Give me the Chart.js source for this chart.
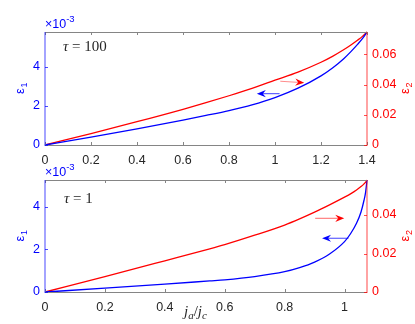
<!DOCTYPE html>
<html>
<head>
<meta charset="utf-8">
<script src="https://cdn.jsdelivr.net/npm/chart.js@4"></script>
<style>
  body { margin: 0; background: #fff; width: 415px; height: 324px; position: relative; overflow: hidden; }
  canvas { position: absolute; left: 0; }
  #c1 { top: 0; }
  #c2 { top: 160px; }
</style>
</head>
<body>
<canvas id="c1" width="415" height="170"></canvas>
<canvas id="c2" width="415" height="164"></canvas>
<script>
// --- data ---
// top panel, tau = 100
const xTop    = [0, 0.2, 0.4, 0.6, 0.7, 0.8, 0.9, 1.0, 1.1, 1.2, 1.25, 1.3, 1.33, 1.36, 1.38, 1.4];
const eps1Top = [0, 0.40, 0.82, 1.27, 1.51, 1.76, 2.05, 2.42, 2.90, 3.53, 3.93, 4.42, 4.77, 5.15, 5.43, 5.77]; // x 1e-3
const eps2Top = [0, 0.0076, 0.0154, 0.0236, 0.0280, 0.0326, 0.0375, 0.0429, 0.0483, 0.0548, 0.0587, 0.0632, 0.0662, 0.0695, 0.0719, 0.0748];
// bottom panel, tau = 1
const xBot    = [0, 0.2, 0.4, 0.55, 0.6, 0.7, 0.8, 0.85, 0.9, 0.95, 1.0, 1.02, 1.04, 1.055, 1.065, 1.07, 1.075];
const eps1Bot = [0, 0.18, 0.37, 0.52, 0.57, 0.72, 0.95, 1.14, 1.40, 1.78, 2.36, 2.73, 3.22, 3.75, 4.30, 4.65, 5.25]; // x 1e-3
const eps2Bot = [0, 0.0080, 0.0162, 0.0224, 0.0246, 0.0295, 0.0348, 0.0380, 0.0415, 0.0453, 0.0493, 0.0510, 0.0530, 0.0548, 0.0562, 0.0570, 0.0582];

const BLUE = '#0000ff';
const RED = '#ff0000';
const DARK = '#262626';
const SANS = '"Liberation Sans", Arial, Helvetica, sans-serif';
const SERIF = '"Liberation Serif", "Times New Roman", serif';

function pts(xs, ys) {
    return xs.map((x, i) => ({ x: x, y: ys[i] }));
}

// kleine helper om een lijn te trekken
function seg(ctx, x1, y1, x2, y2) {
    ctx.beginPath();
    ctx.moveTo(x1, y1);
    ctx.lineTo(x2, y2);
    ctx.stroke();
}

function drawArrow(ctx, x1, y1, x2, y2, shaft, head) {
    const ang = Math.atan2(y2 - y1, x2 - x1);
    const L = 9, W = 3.6, back = 3;
    ctx.strokeStyle = shaft;
    ctx.lineWidth = 1;
    seg(ctx, x1, y1, x2 - Math.cos(ang) * (L - back), y2 - Math.sin(ang) * (L - back));
    ctx.save();
    ctx.translate(x2, y2);
    ctx.rotate(ang);
    ctx.fillStyle = head;
    ctx.beginPath();
    ctx.moveTo(0, 0);
    ctx.lineTo(-L, -W);
    ctx.lineTo(-L + back, 0);
    ctx.lineTo(-L, W);
    ctx.closePath();
    ctx.fill();
    ctx.restore();
}

function drawEps(ctx, cx, cy, sub, color) {
    ctx.save();
    ctx.translate(cx, cy);
    ctx.rotate(-Math.PI / 2);
    ctx.fillStyle = color;
    ctx.textBaseline = 'alphabetic';
    ctx.textAlign = 'left';
    ctx.font = '13px ' + SANS;
    const w1 = ctx.measureText('ε').width;
    ctx.font = '9px ' + SANS;
    const w2 = ctx.measureText(sub).width;
    const x0 = -(w1 + w2) / 2;
    ctx.font = '13px ' + SANS;
    ctx.fillText('ε', x0, 4);
    ctx.font = '9px ' + SANS;
    ctx.fillText(sub, x0 + w1 + 0.5, 7);
    ctx.restore();
}

// frame, inward ticks, labels and arrows (matlab look)
const framePlugin = {
    id: 'frame',
    afterDatasetsDraw(chart, args, opts) {
        const ctx = chart.ctx;
        const a = chart.chartArea;
        const sx = chart.scales.x, sy = chart.scales.y, sy2 = chart.scales.y2;
        const L = Math.round(a.left), R = Math.round(a.right);
        const T = Math.round(a.top), B = Math.round(a.bottom);
        ctx.save();

        // top / bottom border + x ticks
        ctx.strokeStyle = '#858585';
        ctx.lineWidth = 1;
        seg(ctx, L, T + 0.5, R, T + 0.5);
        seg(ctx, L, B + 0.5, R, B + 0.5);
        sx.ticks.forEach(t => {
            const px = Math.round(sx.getPixelForValue(t.value)) + 0.5;
            seg(ctx, px, B, px, B - 3);
            seg(ctx, px, T, px, T + 3);
        });

        // left axis (blue)
        ctx.strokeStyle = 'rgba(0,0,255,0.45)';
        ctx.lineWidth = 1.6;
        seg(ctx, L, T, L, B + 1);
        ctx.strokeStyle = 'rgba(0,0,255,0.7)';
        ctx.lineWidth = 1;
        sy.ticks.forEach(t => {
            const py = Math.round(sy.getPixelForValue(t.value)) + 0.5;
            seg(ctx, L, py, L + 3, py);
        });

        // right axis (red)
        ctx.strokeStyle = 'rgba(255,0,0,0.45)';
        ctx.lineWidth = 1.6;
        seg(ctx, R, T, R, B + 1);
        ctx.strokeStyle = 'rgba(255,0,0,0.7)';
        ctx.lineWidth = 1;
        sy2.ticks.forEach(t => {
            const py = Math.round(sy2.getPixelForValue(t.value)) + 0.5;
            seg(ctx, R, py, R - 3, py);
        });

        // arrows in data coordinates
        (opts.arrows || []).forEach(ar => {
            const s = chart.scales[ar.axis];
            drawArrow(ctx,
                sx.getPixelForValue(ar.x1), s.getPixelForValue(ar.y1),
                sx.getPixelForValue(ar.x2), s.getPixelForValue(ar.y2),
                ar.shaft, ar.head);
        });

        // x10^-3
        ctx.fillStyle = BLUE;
        ctx.textBaseline = 'alphabetic';
        ctx.textAlign = 'left';
        ctx.font = '12.5px ' + SANS;
        ctx.fillText('×10', L, T - 4.5);
        const w10 = ctx.measureText('×10').width;
        ctx.font = '9.5px ' + SANS;
        ctx.fillText('-3', L + w10, T - 10);

        // axis titles
        const midY = (a.top + a.bottom) / 2;
        drawEps(ctx, 20, midY, '1', BLUE);
        drawEps(ctx, 405, midY, '2', RED);

        // tau label
        ctx.fillStyle = DARK;
        ctx.font = 'italic 15px ' + SERIF;
        ctx.fillText('τ', opts.tauX, opts.tauY);
        const wt = ctx.measureText('τ').width;
        ctx.font = '15px ' + SERIF;
        ctx.fillText(' = ' + opts.tau, opts.tauX + wt, opts.tauY);

        // x title j_a / j_c
        if (opts.xTitle) {
            let x = 184, y = chart.height - 8;
            const part = (txt, size, dy, italic) => {
                ctx.font = (italic ? 'italic ' : '') + size + 'px ' + SERIF;
                ctx.fillText(txt, x, y + dy);
                x += ctx.measureText(txt).width;
            };
            part('j', 15, 0, true);
            part('a', 11, 3, true);
            part('/', 15, 0, false);
            part('j', 15, 0, true);
            part('c', 11, 3, true);
        }
        ctx.restore();
    }
};

function makePanel(id, cfg) {
    const ctx = document.getElementById(id).getContext('2d');
    return new Chart(ctx, {
        type: 'line',
        data: {
            datasets: [
                {
                    label: 'eps1',
                    data: pts(cfg.xs, cfg.e1),
                    yAxisID: 'y',
                    borderColor: BLUE,
                    borderWidth: 1.3,
                    pointRadius: 0,
                    cubicInterpolationMode: 'monotone',
                    clip: 4
                },
                {
                    label: 'eps2',
                    data: pts(cfg.xs, cfg.e2),
                    yAxisID: 'y2',
                    borderColor: RED,
                    borderWidth: 1.3,
                    pointRadius: 0,
                    cubicInterpolationMode: 'monotone',
                    clip: 4
                }
            ]
        },
        options: {
            responsive: false,
            animation: false,
            devicePixelRatio: 1,
            layout: { padding: { top: cfg.padTop, left: 0, right: 0, bottom: 0 } },
            plugins: {
                legend: { display: false },
                tooltip: { enabled: false },
                frame: cfg.frame
            },
            scales: {
                x: {
                    type: 'linear',
                    min: 0,
                    max: cfg.xMax,
                    grid: { display: false, drawTicks: false },
                    border: { display: false },
                    ticks: {
                        stepSize: 0.2,
                        includeBounds: false,
                        autoSkip: false,
                        maxRotation: 0,
                        padding: 8,
                        color: DARK,
                        font: { family: SANS, size: 12.5 },
                        callback: v => String(+v.toFixed(1))
                    },
                    afterFit: s => { s.height = cfg.xHeight; }
                },
                y: {
                    position: 'left',
                    min: 0,
                    max: cfg.y1Max,
                    grid: { display: false, drawTicks: false },
                    border: { display: false },
                    ticks: {
                        stepSize: 2,
                        includeBounds: false,
                        padding: 5,
                        color: BLUE,
                        font: { family: SANS, size: 12.5 },
                        callback: v => String(+v.toFixed(0))
                    },
                    afterFit: s => { s.width = 45; }
                },
                y2: {
                    position: 'right',
                    min: 0,
                    max: cfg.y2Max,
                    grid: { display: false, drawTicks: false },
                    border: { display: false },
                    ticks: {
                        stepSize: 0.02,
                        includeBounds: false,
                        padding: 5,
                        color: RED,
                        font: { family: SANS, size: 12.5 },
                        callback: v => v === 0 ? '0' : String(+v.toFixed(2))
                    },
                    afterFit: s => { s.width = 48; }
                }
            }
        },
        plugins: [framePlugin]
    });
}

makePanel('c1', {
    xs: xTop, e1: eps1Top, e2: eps2Top,
    xMax: 1.4, y1Max: 5.77, y2Max: 0.0748,
    padTop: 32, xHeight: 25,
    frame: {
        tau: '100', tauX: 63, tauY: 50.5, xTitle: false,
        arrows: [
            { axis: 'y2', x1: 1.023, y1: 0.0422, x2: 1.127, y2: 0.0412, shaft: 'rgba(255,0,0,0.45)', head: RED },
            { axis: 'y', x1: 1.020, y1: 2.62, x2: 0.921, y2: 2.62, shaft: 'rgba(0,0,255,0.75)', head: BLUE }
        ]
    }
});

makePanel('c2', {
    xs: xBot, e1: eps1Bot, e2: eps2Bot,
    xMax: 1.075, y1Max: 5.25, y2Max: 0.0582,
    padTop: 20, xHeight: 32,
    frame: {
        tau: '1', tauX: 64, tauY: 43, xTitle: true,
        arrows: [
            { axis: 'y2', x1: 0.902, y1: 0.0383, x2: 0.999, y2: 0.0383, shaft: 'rgba(255,0,0,0.6)', head: RED },
            { axis: 'y', x1: 1.013, y1: 2.52, x2: 0.925, y2: 2.52, shaft: 'rgba(0,0,255,0.75)', head: BLUE }
        ]
    }
});
</script>
</body>
</html>
